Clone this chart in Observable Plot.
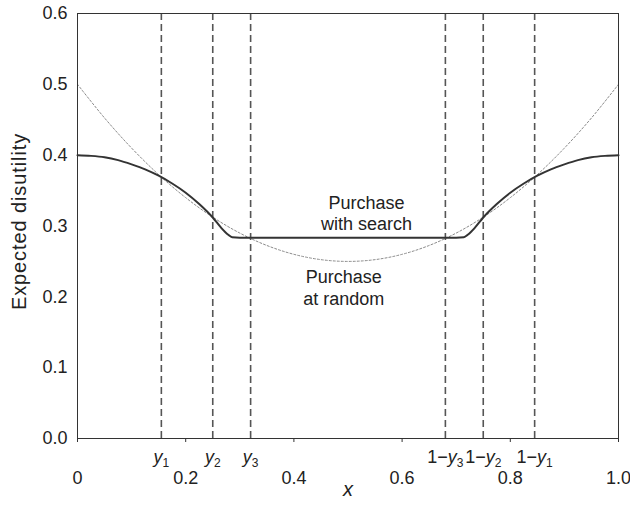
<!DOCTYPE html>
<html>
<head>
<meta charset="utf-8">
<script src="https://cdn.jsdelivr.net/npm/d3@7"></script>
<script src="https://cdn.jsdelivr.net/npm/@observablehq/plot@0.6"></script>
<style>
  html, body { margin: 0; padding: 0; background: #fff; }
  #chart { width: 630px; height: 505px; }
</style>
</head>
<body>
<div id="chart"></div>
<script>
// Purchase with search (solid curve)
const searchX = [0, 0.025, 0.05, 0.075, 0.1, 0.125, 0.15, 0.175, 0.2, 0.225, 0.25, 0.265, 0.278, 0.286, 0.3, 0.5, 0.7, 0.714, 0.722, 0.735, 0.75, 0.775, 0.8, 0.825, 0.85, 0.875, 0.9, 0.925, 0.95, 0.975, 1];
const searchY = [0.400, 0.399, 0.397, 0.393, 0.387, 0.380, 0.371, 0.360, 0.347, 0.331, 0.312, 0.298, 0.288, 0.2840, 0.2835, 0.2835, 0.2835, 0.2840, 0.288, 0.298, 0.312, 0.331, 0.347, 0.360, 0.371, 0.380, 0.387, 0.393, 0.397, 0.399, 0.400];

// Purchase at random (dotted curve)
const randomX = [0, 0.05, 0.1, 0.15, 0.2, 0.25, 0.3, 0.35, 0.4, 0.45, 0.5, 0.55, 0.6, 0.65, 0.7, 0.75, 0.8, 0.85, 0.9, 0.95, 1];
const randomY = [0.5, 0.4525, 0.41, 0.3725, 0.34, 0.3125, 0.29, 0.2725, 0.26, 0.2525, 0.25, 0.2525, 0.26, 0.2725, 0.29, 0.3125, 0.34, 0.3725, 0.41, 0.4525, 0.5];

// Thresholds (vertical dashed lines) and their labels
const guideX = [0.155, 0.25, 0.32, 0.68, 0.75, 0.845];
const guidePrefix = ["", "", "", "1\u2212", "1\u2212", "1\u2212"];
const guideSub = ["1", "2", "3", "3", "2", "1"];

// Axis ticks
const xTicks = [0, 0.2, 0.4, 0.6, 0.8, 1.0];
const xTickLabels = ["0", "0.2", "0.4", "0.6", "0.8", "1.0"];
const yTicks = [0, 0.1, 0.2, 0.3, 0.4, 0.5, 0.6];

// Curve annotations
const annText = ["Purchase\nwith search", "Purchase\nat random"];
const annX = [0.534, 0.492];
const annY = [0.319, 0.214];

const searchData = searchX.map((x, i) => ({x, y: searchY[i]}));
const randomData = randomX.map((x, i) => ({x, y: randomY[i]}));
const guideData = guideX.map((x, i) => ({x, label: guidePrefix[i] + "y" + guideSub[i], pre: guidePrefix[i], sub: guideSub[i]}));
const annData = annText.map((t, i) => ({t, x: annX[i], y: annY[i]}));

const FONT = "'Liberation Sans', Arial, Helvetica, sans-serif";

const chart = Plot.plot({
  width: 630,
  height: 505,
  marginLeft: 77,
  marginRight: 12,
  marginTop: 13,
  marginBottom: 67,
  style: {fontFamily: FONT, fontSize: "18px", color: "#222", background: "#fff"},
  x: {domain: [0, 1]},
  y: {domain: [0, 0.6]},
  marks: [
    Plot.ruleX(guideData, {x: "x", y1: 0, y2: 0.6, stroke: "#555", strokeWidth: 1.6, strokeDasharray: "7,4"}),
    Plot.line(randomData, {x: "x", y: "y", stroke: "#8a8a8a", strokeWidth: 1, strokeDasharray: "2,2", curve: "catmull-rom"}),
    Plot.line(searchData, {x: "x", y: "y", stroke: "#333", strokeWidth: 2, curve: "monotone-x"}),
    Plot.frame({stroke: "#333", strokeWidth: 1}),
    Plot.axisX({ticks: xTicks, tickFormat: d => xTickLabels[xTicks.indexOf(d)], tickSize: 4, tickPadding: 29, label: null, fontSize: 18, stroke: "#333"}),
    Plot.axisY({ticks: yTicks, tickFormat: d => d.toFixed(1), tickSize: 0, tickPadding: 10, label: null, fontSize: 18}),
    Plot.text(guideData, {x: "x", y: 0, text: "label", dy: 19, lineAnchor: "middle", fontSize: 18, fill: "#222"}),
    Plot.text(annData, {x: "x", y: "y", text: "t", lineAnchor: "middle", lineHeight: 1.2, fontSize: 18, fill: "#222"}),
    Plot.text(["x"], {frameAnchor: "bottom", dy: 57, fontSize: 20, fontStyle: "italic", fill: "#222"})
  ]
});

document.getElementById("chart").appendChild(chart);

const svg = d3.select(chart.tagName.toLowerCase() === "svg" ? chart : chart.querySelector("svg"));

// Render subscripts and italic y in the threshold labels
const labelSet = new Map(guideData.map(d => [d.label, d]));
svg.selectAll("text").each(function() {
  if (this.querySelector("tspan")) return;
  const d = labelSet.get(this.textContent);
  if (!d) return;
  const t = d3.select(this);
  t.text(null);
  if (d.pre) t.append("tspan").text(d.pre);
  t.append("tspan").attr("font-style", "italic").text("y");
  t.append("tspan").attr("font-size", "12px").attr("dy", "0.35em").text(d.sub);
});

// Y axis title, rotated, centred on the plot area
const plotTop = 13, plotBottom = 505 - 67;
svg.append("text")
  .attr("transform", `translate(19,${(plotTop + plotBottom) / 2 - 4}) rotate(-90)`)
  .attr("text-anchor", "middle")
  .attr("dominant-baseline", "central")
  .attr("font-size", 20)
  .attr("letter-spacing", "0.9px")
  .attr("fill", "#222")
  .text("Expected disutility");
</script>
</body>
</html>
